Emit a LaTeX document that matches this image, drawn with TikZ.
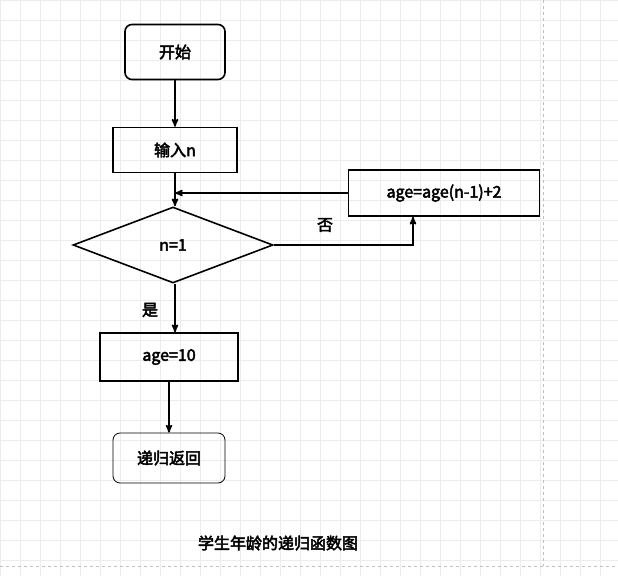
\documentclass[tikz,border=0pt]{standalone}
\usepackage{fontspec}
\setmainfont{Noto Sans CJK SC}[AutoFakeBold=3]
\usetikzlibrary{arrows,shapes,positioning,calc}
\tikzset{
    term/.style={
        rectangle,
        rounded corners=7pt,
        line width=1.6pt,
        draw=black,
        font=\bfseries\fontsize{16}{18}\selectfont,
    },
    proc/.style={
        rectangle,
        line width=1.6pt,
        draw=black,
        font=\bfseries\fontsize{16}{18}\selectfont,
    },
    cond/.style={
        diamond,
        aspect=2.6,
        line width=1.6pt,
        draw=black,
        inner sep=0pt,
        font=\bfseries\fontsize{16}{18}\selectfont,
    },
    lbl/.style={
        font=\bfseries\fontsize{16}{18}\selectfont,
    },
}

\begin{document}
\begin{tikzpicture}[x=1pt,y=-1pt,>=stealth',line width=1.6pt]
	    \useasboundingbox (0,0) rectangle (618,576);
	    \draw [gray!15,line width=0.5pt,step=20pt] (0,0) grid (618,576);
	    \draw [gray!50,line width=0.5pt,dashed] (543,0) -- (543,566);
	    \draw [gray!50,line width=0.5pt,dashed] (0,566) -- (618,566);
	    \node [term,minimum width=100pt,minimum height=55pt] (start) at (175,52) {开始};
	    \node [proc,minimum width=124pt,minimum height=45pt] (in) at (175,150) {输入n};
	    \node [cond,minimum width=200pt,minimum height=76pt] (test) at (173,245) {n=1};
	    \node [proc,minimum width=191pt,minimum height=46pt] (rec) at (444,193) {age=age(n-1)+2};
	    \node [proc,minimum width=138pt,minimum height=48pt] (base) at (169,357) {age=10};
	    \node [term,line width=0.8pt,minimum width=112pt,minimum height=50pt] (ret) at (169,458) {递归返回};
	    \node [lbl] (cap) at (278,543) {学生年龄的递归函数图};
	    \coordinate (turn) at (413,245);
	    \coordinate (join) at (175,193);
	    \draw [->] (start) -- (in);
	    \draw [->] (in) -- (test.north -| in);
	    \draw [->] (test.east) -- (turn) -- (turn |- rec.south);
	    \node [lbl] (no) at (325,225) {否};
	    \draw [->] (rec.west) -- (join);
	    \draw [->] (test.south -| in) -- (base.north -| in);
	    \node [lbl] (yes) at (150,310) {是};
	    \draw [->] (base) -- (ret);
\end{tikzpicture}
\end{document}
